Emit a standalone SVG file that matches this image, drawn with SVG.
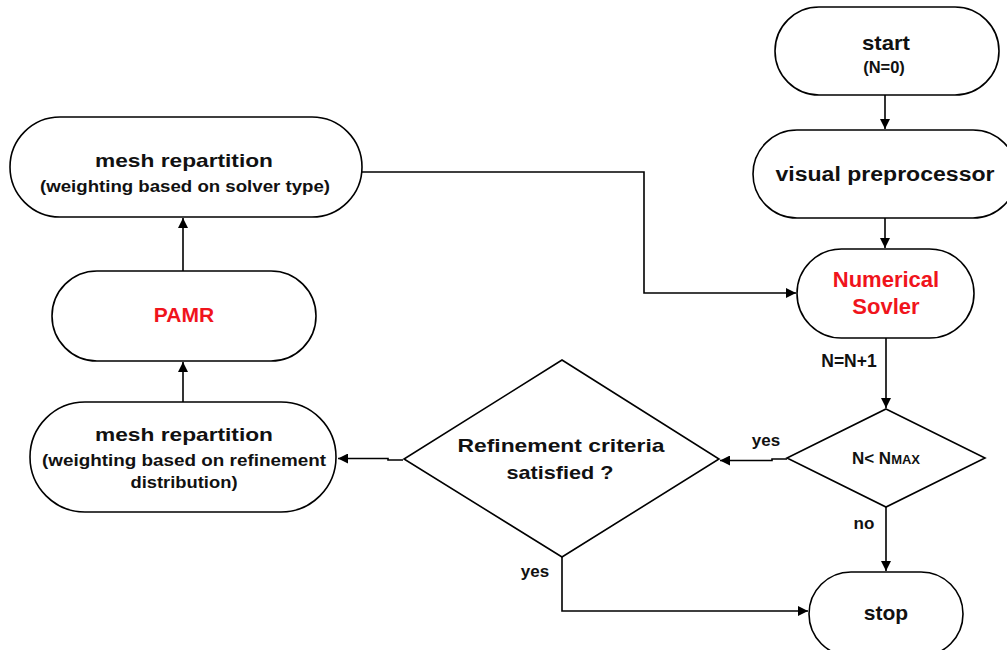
<svg xmlns="http://www.w3.org/2000/svg" width="1007" height="650" viewBox="0 0 1007 650">
<defs>
<marker id="arr" viewBox="0 0 10 10" refX="10" refY="5" markerWidth="10" markerHeight="10" markerUnits="userSpaceOnUse" orient="auto">
<path d="M0,0 L10,5 L0,10 z" fill="#000"/>
</marker>
<style>
.node{fill:#fff;stroke:#000;stroke-width:1.6}
.t{font-family:"Liberation Sans",Arial,sans-serif;font-weight:bold;fill:#111;text-anchor:middle}
.red{fill:#f0141c}
.c{fill:none;stroke:#000;stroke-width:1.6}
</style>
</defs>
<rect width="1007" height="650" fill="#fff"/>
<g id="connectors">
<path class="c" d="M885,95 V129" marker-end="url(#arr)"/>
<path class="c" d="M885,218 V248" marker-end="url(#arr)"/>
<path class="c" d="M886,338 V408" marker-end="url(#arr)"/>
<path class="c" d="M886,507 V571" marker-end="url(#arr)"/>
<path class="c" d="M787,459 H772 V460.5 H720" marker-end="url(#arr)"/>
<path class="c" d="M403,460 H388 V458.5 H338" marker-end="url(#arr)"/>
<path class="c" d="M183,402 V362" marker-end="url(#arr)"/>
<path class="c" d="M183,271 V218" marker-end="url(#arr)"/>
<path class="c" d="M362,172 H644 V293 H796" marker-end="url(#arr)"/>
<path class="c" d="M562,557 V611 H808" marker-end="url(#arr)"/>
</g>
<g id="start">
<rect class="node" x="775" y="7" width="224" height="88" rx="44"/>
<text class="t" x="886" y="50" font-size="21" textLength="48" lengthAdjust="spacingAndGlyphs">start</text>
<text class="t" x="884" y="73" font-size="16.5">(N=0)</text>
</g>
<g id="visual-preprocessor">
<rect class="node" x="753" y="130" width="264" height="88" rx="44"/>
<text class="t" x="885" y="181" font-size="20" textLength="219" lengthAdjust="spacingAndGlyphs">visual  preprocessor</text>
</g>
<g id="numerical-solver">
<rect class="node" x="797" y="249" width="177" height="89" rx="44.5"/>
<text class="t red" x="886" y="287" font-size="22">Numerical</text>
<text class="t red" x="886" y="314" font-size="22">Sovler</text>
</g>
<text class="t" x="849" y="367" font-size="17.5">N=N+1</text>
<g id="n-less-nmax">
<polygon class="node" points="886,409 985,458 886,507 787,458"/>
<text class="t" x="886" y="464" font-size="17">N&lt; N<tspan font-size="13">MAX</tspan></text>
</g>
<text class="t" x="864" y="529" font-size="17">no</text>
<g id="stop">
<rect class="node" x="809" y="572" width="154" height="84" rx="42"/>
<text class="t" x="886" y="620" font-size="21">stop</text>
</g>
<g id="mesh-repartition-solver">
<rect class="node" x="10" y="117" width="352" height="100" rx="50"/>
<text class="t" x="184" y="167" font-size="19" textLength="178" lengthAdjust="spacingAndGlyphs">mesh  repartition</text>
<text class="t" x="185" y="192" font-size="16" textLength="290" lengthAdjust="spacingAndGlyphs">(weighting based on solver type)</text>
</g>
<g id="pamr">
<rect class="node" x="52" y="271" width="264" height="90" rx="45"/>
<text class="t red" x="184" y="322" font-size="21">PAMR</text>
</g>
<g id="mesh-repartition-refinement">
<rect class="node" x="30" y="402" width="306" height="110" rx="55"/>
<text class="t" x="184" y="441" font-size="19" textLength="178" lengthAdjust="spacingAndGlyphs">mesh  repartition</text>
<text class="t" x="184" y="466" font-size="17" textLength="284" lengthAdjust="spacingAndGlyphs">(weighting based on refinement</text>
<text class="t" x="184" y="488" font-size="17" textLength="107" lengthAdjust="spacingAndGlyphs">distribution)</text>
</g>
<g id="refinement-criteria">
<polygon class="node" points="562,360 719,459 562,557 404,459"/>
<text class="t" x="561" y="452" font-size="19" textLength="207" lengthAdjust="spacingAndGlyphs">Refinement  criteria</text>
<text class="t" x="560" y="479" font-size="19" textLength="107" lengthAdjust="spacingAndGlyphs">satisfied ?</text>
</g>
<text class="t" x="766" y="446" font-size="17">yes</text>
<text class="t" x="535" y="577" font-size="17">yes</text>
</svg>
